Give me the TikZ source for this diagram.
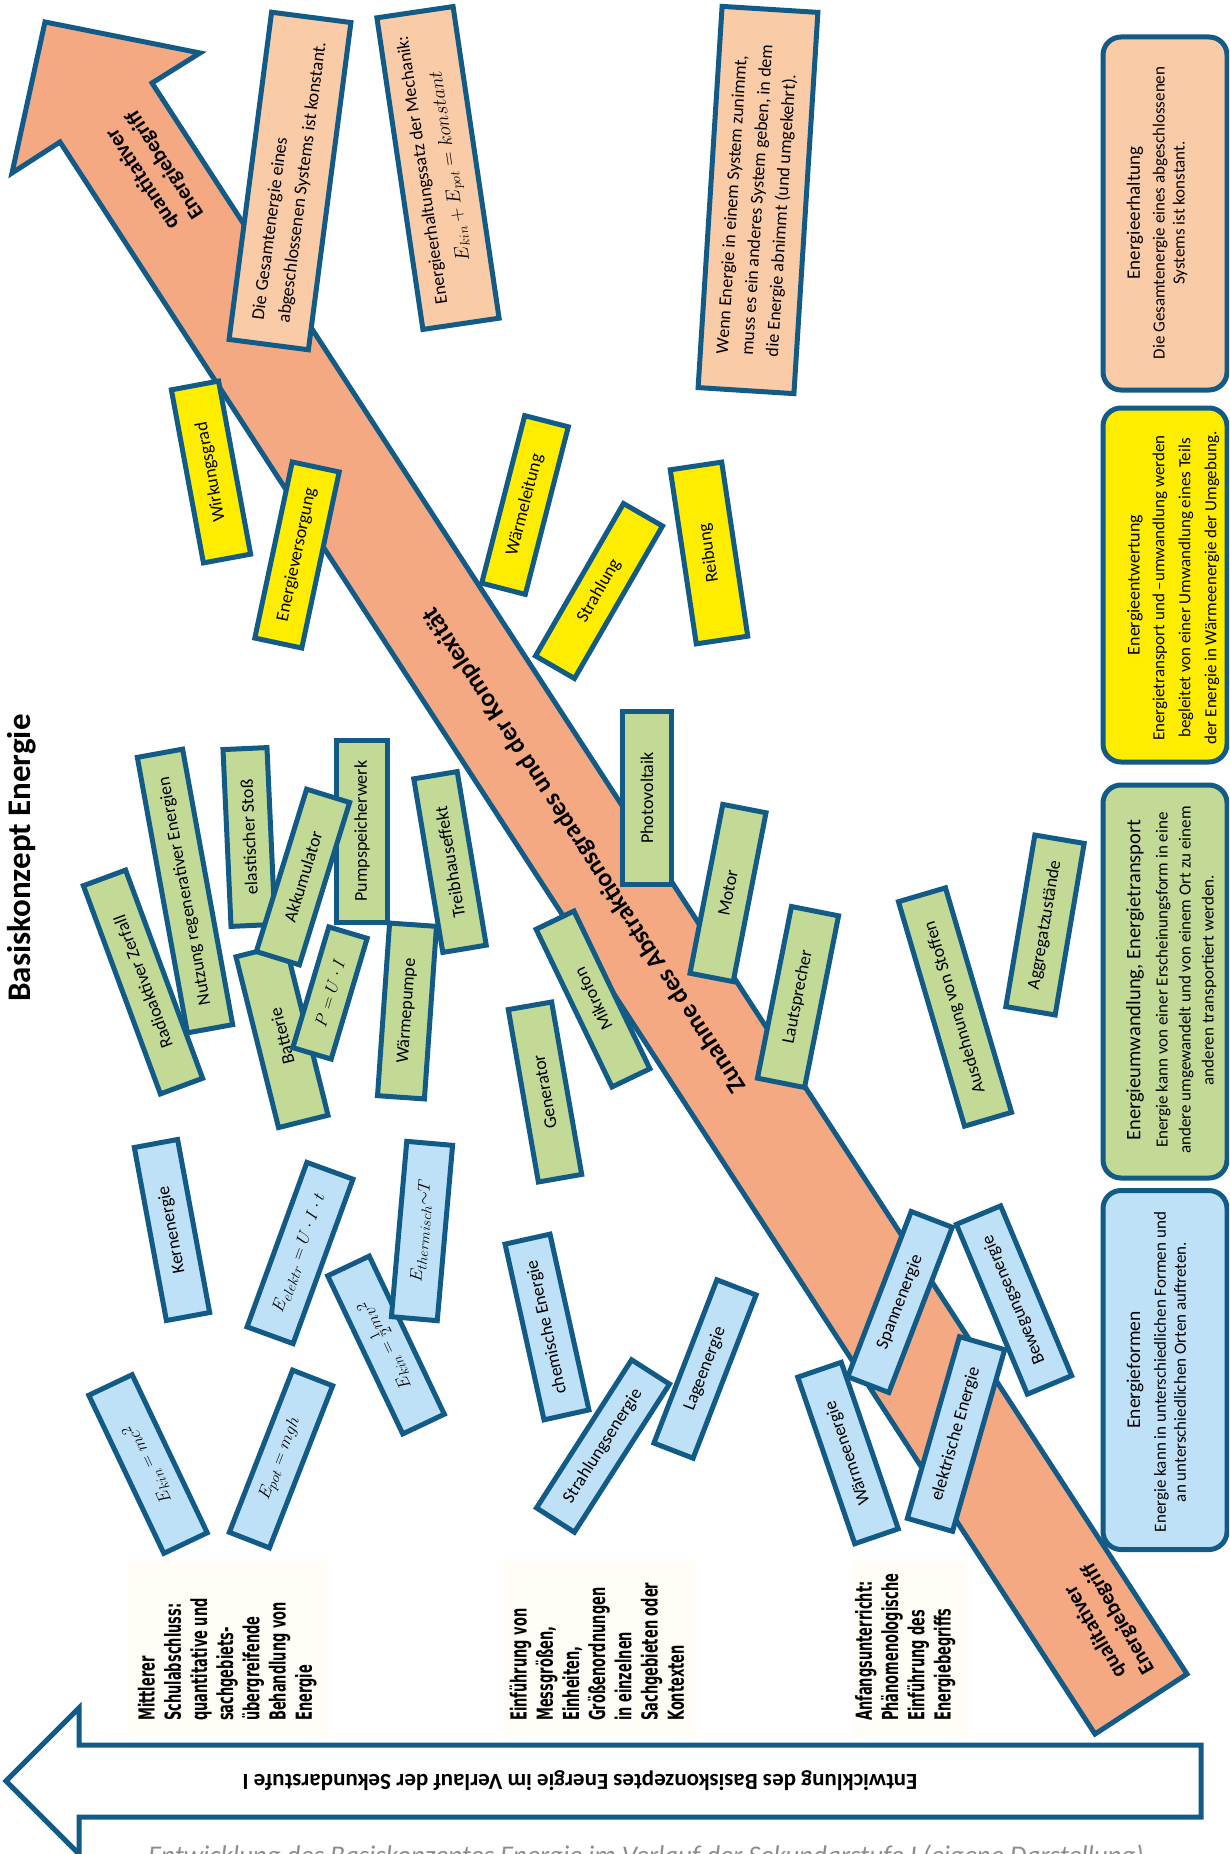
\documentclass[tikz,border=0pt]{standalone}
\usepackage{fontspec}
\setmainfont{Carlito}
\newfontfamily\stagefont{DejaVu Sans}
\definecolor{bord}{HTML}{125B87}
\definecolor{arr}{HTML}{F4A983}
\definecolor{sal}{HTML}{F9CBA6}
\definecolor{yel}{HTML}{FFED00}
\definecolor{grn}{HTML}{C3DA97}
\definecolor{blu}{HTML}{BEE1F7}
\definecolor{cream}{HTML}{FFFDF6}
\definecolor{capgray}{HTML}{8C8C8C}
\tikzset{
 bx/.style={draw=bord, line width=5pt, inner sep=0pt, align=center, font=\fontsize{18}{21}\selectfont},
 yb/.style={bx, fill=yel}, gb/.style={bx, fill=grn}, bb/.style={bx, fill=blu}, ob/.style={bx, fill=sal},
 sz/.style 2 args={minimum width=#1pt, minimum height=#2pt},
 mth/.style={font=\fontsize{19}{22}\selectfont},
 catbox/.style={draw=bord, line width=5pt, rounded corners=18pt, inner sep=0pt, minimum width=124pt},
 cattitle/.style={rotate=90, inner sep=0pt},
 catbody/.style={rotate=90, inner sep=0pt, align=center},
 arrtxt/.style={inner sep=0pt, align=center, font=\bfseries\fontsize{21.5}{27}\selectfont},
 stage/.style={rotate=90, anchor=west, inner sep=0pt},
 cr/.style={fill=cream, draw=none},
}
\newcommand{\stg}[1]{\scalebox{1}[1.7]{\stagefont\bfseries\fontsize{13}{15.4}\selectfont\begin{tabular}{@{}l@{}}#1\end{tabular}}}
\begin{document}
\begin{tikzpicture}[x=1pt,y=-1pt]
\useasboundingbox (0,0) rectangle (1229,1854);
\clip (0,0) rectangle (1229,1854);
\fill[white] (0,0) rectangle (1229,1854);

% title
\node[rotate=90, inner sep=0pt, font=\bfseries\fontsize{33}{40}\selectfont] (title) at (22,858) {Basiskonzept Energie};

% big diagonal arrow
\path[draw=bord, line width=5pt, fill=arr, line join=miter] (45,22) -- (200,53) -- (152,83) -- (1187,1674) -- (1095,1734) -- (60,142) -- (12,173) -- cycle;
\node[arrtxt, rotate=123] (quant) at (154,172) {quantitativer\\Energiebegriff};
\node[arrtxt, rotate=123, font=\bfseries\fontsize{25.5}{30}\selectfont] (zun) at (585,850) {Zunahme des Abstraktionsgrades und der Komplexität};
\node[arrtxt, rotate=120] (qual) at (1107,1625) {qualitativer\\Energiebegriff};

% bottom arrow
\path[draw=bord, line width=5pt, fill=white, line join=miter] (6,1781) -- (79,1708) -- (79,1745) -- (1201,1745) -- (1201,1817) -- (79,1817) -- (79,1854) -- cycle;
\node[rotate=180, inner sep=0pt, font=\bfseries\fontsize{23}{27}\selectfont] (entw) at (580,1781) {Entwicklung des Basiskonzeptes Energie im Verlauf der Sekundarstufe I};
\node[anchor=base west, inner sep=0pt, text=capgray, font=\itshape\fontsize{27}{31}\selectfont] (cap) at (148,1864) {Entwicklung des Basiskonzeptes Energie im Verlauf der Sekundarstufe I (eigene Darstellung)};

% stage labels
\path[cr] (128,1559) rectangle (328,1736);
\path[cr] (503,1559) rectangle (695,1736);
\path[cr] (853,1559) rectangle (968,1736);
\node[stage] (s1) at (228,1721) {\stg{Mittlerer\\Schulabschluss:\\quantitative und\\sachgebiets-\\übergreifende\\Behandlung von\\Energie}};
\node[stage] (s2) at (600,1721) {\stg{Einführung von\\Messgrößen,\\Einheiten,\\Größenordnungen\\in einzelnen\\Sachgebieten oder\\Kontexten}};
\node[stage] (s3) at (906,1721) {\stg{Anfangsunterricht:\\Phänomenologische\\Einführung des\\Energiebegriffs}};

% category boxes
\node[catbox, fill=sal, minimum height=353pt] (c1) at (1165,213.5) {};
\node[cattitle, font=\fontsize{19}{22}\selectfont] (c1t) at (1135,213) {Energieerhaltung};
\node[catbody, font=\fontsize{17}{20}\selectfont] (c1b) at (1170,213) {Die Gesamtenergie eines abgeschlossenen\\Systems ist konstant.};

\node[catbox, fill=yel, minimum height=354pt] (c2) at (1165,585) {};
\node[cattitle, font=\fontsize{18}{22}\selectfont] (c2t) at (1135,585) {Energieentwertung};
\node[catbody, font=\fontsize{17}{26}\selectfont] (c2b) at (1186,588) {Energietransport und –umwandlung werden\\begleitet von einer Umwandlung eines Teils\\der Energie in Wärmeenergie der Umgebung.};

\node[catbox, fill=grn, minimum height=393pt] (c3) at (1165,981.5) {};
\node[cattitle, font=\fontsize{20.5}{24}\selectfont] (c3t) at (1135,980) {Energieumwandlung, Energietransport};
\node[catbody, font=\fontsize{17}{23}\selectfont] (c3b) at (1186,980) {Energie kann von einer Erscheinungsform in eine\\andere umgewandelt und von einem Ort zu einem\\anderen transportiert werden.};

\node[catbox, fill=blu, minimum height=359pt] (c4) at (1165,1370) {};
\node[cattitle, font=\fontsize{19.5}{23}\selectfont] (c4t) at (1135,1370) {Energieformen};
\node[catbody, font=\fontsize{17}{20}\selectfont] (c4b) at (1170,1372) {Energie kann in unterschiedlichen Formen und\\an unterschiedlichen Orten auftreten.};

% salmon statement boxes
\node[ob, sz={330}{80}, rotate=82.6, align=left, font=\fontsize{18.2}{26}\selectfont] (ges) at (290,181) {Die Gesamtenergie eines\\abgeschlossenen Systems ist konstant.};
\node[ob, sz={315}{77}, rotate=98.4, font=\fontsize{18}{28}\selectfont] (meh) at (438,168) {Energieerhaltungssatz der Mechanik:\\\scalebox{1.14}{$E_{kin}+E_{pot}=konstant$}};
\node[ob, sz={382}{96}, rotate=86.4, align=left, font=\fontsize{18}{25}\selectfont] (wenn) at (758,200) {Wenn Energie in einem System zunimmt,\\muss es ein anderes System geben, in dem\\die Energie abnimmt (und umgekehrt).};

% yellow boxes
\node[yb, sz={176}{48}, rotate=100.5] (wg) at (211,472) {Wirkungsgrad};
\node[yb, sz={180}{48}, rotate=78] (ev) at (297,555) {Energieversorgung};
\node[yb, sz={173}{45}, rotate=75.6] (wl) at (525,505) {Wärmeleitung};
\node[yb, sz={176}{45}, rotate=60] (st) at (599,591) {Strahlung};
\node[yb, sz={176}{52}, rotate=98.5] (rb) at (709,553) {Reibung};

% green boxes
\node[gb, sz={280}{46}, rotate=100.3] (nre) at (185,891) {Nutzung regenerativer Energien};
\node[gb, sz={222}{45}, rotate=110.3] (rz) at (143,982) {Radioaktiver Zerfall};
\node[gb, sz={177}{44}, rotate=92.6] (es) at (249,837) {elastischer Stoß};
\node[gb, sz={182}{51}, rotate=90] (pw) at (362,831) {Pumpspeicherwerk};
\node[gb, sz={176}{51}, rotate=104] (bat) at (282,1036) {Batterie};
\node[gb, sz={170}{45}, rotate=72.8] (akk) at (303,877) {Akkumulator};
\node[gb, sz={126}{40}, rotate=73.4, mth] (pui) at (330,993) {$P=U\cdot I$};
\node[gb, sz={176}{44}, rotate=99.5] (th) at (450,862) {Treibhauseffekt};
\node[gb, sz={173}{47}, rotate=86] (wp) at (407,1011) {Wärmepumpe};
\node[gb, sz={175}{44}, rotate=99.9] (gen) at (545,1092) {Generator};
\node[gb, sz={175}{42}, rotate=115.7] (mik) at (593,999) {Mikrofon};
\node[gb, sz={173}{49}, rotate=90] (pv) at (647,798) {Photovoltaik};
\node[gb, sz={172}{44}, rotate=79] (mot) at (728,893) {Motor};
\node[gb, sz={175}{48}, rotate=78.8] (ls) at (798,997) {Lautsprecher};
\node[gb, sz={234}{49}, rotate=106.4] (ads) at (955,1007) {Ausdehnung von Stoffen};
\node[gb, sz={174}{50}, rotate=80.4] (agg) at (1045,925) {Aggregatzustände};

% blue boxes
\node[bb, sz={176}{44}, rotate=100.5] (ke) at (172,1230) {Kernenergie};
\node[bb, sz={175}{49}, rotate=70, mth] (eel) at (300,1253) {$E_{elektr}=U\cdot I\cdot t$};
\node[bb, sz={175}{46}, rotate=115.4, mth] (ekh) at (386,1345) {$E_{kin}=\frac{1}{2}mv^2$};
\node[bb, sz={176}{46}, rotate=85, mth] (eth) at (422,1231) {$E_{thermisch}{\sim}T$};
\node[bb, sz={175}{48}, rotate=115.4, mth] (emc) at (148,1464) {$E_{kin}=mc^2$};
\node[bb, sz={174}{43}, rotate=68.7, mth] (epot) at (281,1459) {$E_{pot}=mgh$};
\node[bb, sz={180}{46}, rotate=102.5] (che) at (547,1327) {chemische Energie};
\node[bb, sz={176}{45}, rotate=57.3] (sen) at (603,1446) {Strahlungsenergie};
\node[bb, sz={175}{42}, rotate=68.9] (lag) at (705,1369) {Lageenergie};
\node[bb, sz={176}{46}, rotate=108.9] (wae) at (848,1453) {Wärmeenergie};
\node[bb, sz={177}{44}, rotate=69] (spa) at (900,1302) {Spannenergie};
\node[bb, sz={184}{48}, rotate=112.7] (bew) at (1014,1300) {Bewegungsenergie};
\node[bb, sz={189}{47}, rotate=74] (ele) at (956,1434) {elektrische Energie};
\end{tikzpicture}
\end{document}
